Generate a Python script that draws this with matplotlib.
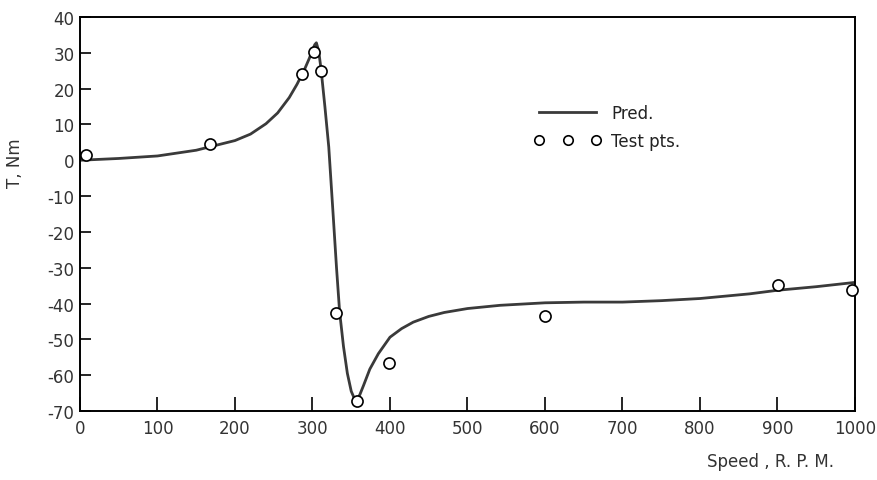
import matplotlib
matplotlib.use("Agg")
import matplotlib.pyplot as plt

# predicted torque curve
pred_speed = [0, 50, 100, 150, 200, 220, 240, 255, 270, 280, 290, 296, 300,
              303, 305, 308, 311, 316, 321, 326, 331, 335, 340, 345, 350, 354,
              357, 361, 366, 374, 385, 400, 415, 430, 450, 470, 500, 542, 600,
              650, 700, 750, 800, 864, 900, 950, 1000]
pred_torque = [0, 0.5, 1.2, 2.8, 5.5, 7.3, 10.2, 13.2, 17.5, 21.2, 25.5, 28.5,
               30.8, 32.3, 32.8, 30.5, 25.5, 15, 3.7, -13, -30, -42.3, -52,
               -59.5, -64.5, -66.5, -66.8, -65.5, -62.8, -58.3, -54, -49.4,
               -47, -45.2, -43.6, -42.5, -41.4, -40.5, -39.8, -39.6, -39.6,
               -39.2, -38.6, -37.3, -36.3, -35.3, -34.1]

# measured points
test_speed = [8, 168, 286, 302, 311, 330, 357, 399, 600, 901, 996]
test_torque = [1.4, 4.5, 24, 30.1, 24.8, -42.6, -67.2, -56.6, -43.5, -34.8, -36.2]

x_ticks = [0, 100, 200, 300, 400, 500, 600, 700, 800, 900, 1000]
y_ticks = [40, 30, 20, 10, 0, -10, -20, -30, -40, -50, -60, -70]


def main() -> None:
    plt.rcParams["axes.unicode_minus"] = False
    plt.rcParams["font.family"] = ["DejaVu Sans"]

    fig = plt.figure(figsize=(8.78, 4.81), dpi=100)
    ax = fig.add_axes([0.0911, 0.1435, 0.8827, 0.8191])

    ax.plot(pred_speed, pred_torque, color="#3a3a3a", lw=2.0, label="Pred.",
            zorder=2, solid_joinstyle="round")
    ax.plot(test_speed, test_torque, linestyle="none", marker="o", ms=8,
            mfc="white", mec="black", mew=1.2, label="Test pts.", zorder=3,
            clip_on=False)

    ax.set_xlim(0, 1000)
    ax.set_ylim(-70, 40)
    ax.set_xticks(x_ticks)
    ax.set_yticks(y_ticks)
    ax.tick_params(direction="in", length=10, width=1.2, labelsize=12,
                   labelcolor="#333333", pad=6)
    ax.tick_params(axis="y", length=8, pad=4)
    for side in ["left", "bottom", "top", "right"]:
        ax.spines[side].set_linewidth(1.4)

    leg = ax.legend(loc="upper left", bbox_to_anchor=(0.567, 0.818),
                    frameon=False, numpoints=3, handlelength=4.0,
                    fontsize=12, labelspacing=0.6, handletextpad=0.6,
                    markerscale=0.85)
    for t in leg.get_texts():
        t.set_color("#222222")

    fig.text(0.017, 0.66, "T, Nm", rotation=90, fontsize=12, color="#333333",
             ha="center", va="center")
    fig.text(0.877, 0.04, "Speed , R. P. M.", fontsize=12, color="#333333",
             ha="center", va="center")

    fig.savefig("out.png", dpi=100)
    plt.close(fig)


if __name__ == "__main__":
    main()
